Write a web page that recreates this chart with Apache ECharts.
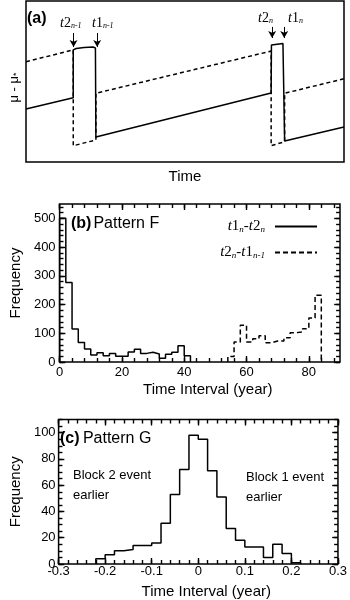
<!DOCTYPE html>
<html><head><meta charset="utf-8">
<script src="https://cdn.jsdelivr.net/npm/echarts@6/dist/echarts.min.js"></script>
<style>html,body{margin:0;padding:0;background:#fff}#c{width:350px;height:600px}</style>
</head><body><div id="c"></div>
<script>
// ---------- Panel (a): schematic (arbitrary units 0..100) ----------
const schemSolidX = [0, 14.86, 14.86, 15.79, 18.27, 21.05, 21.83, 21.98, 21.98, 77.09, 77.18, 77.55, 80.8, 81.33, 81.33, 100];
const schemSolidY = [32.9, 39.9, 69.6, 70.5, 71.1, 71.4, 70.8, 69.6, 15.5, 42.9, 72.7, 73.6, 73.6, 72.7, 13.0, 21.7];
const schemDashX = [0, 14.86, 14.86, 21.98, 21.98, 77.09, 77.09, 81.33, 81.33, 100];
const schemDashY = [62.3, 69.6, 10.1, 13.7, 42.7, 68.9, 10.1, 12.6, 42.7, 51.7];
const arrowX = [14.95, 22.38, 77.4, 81.2];
const arrowTop = [80.1, 80.1, 83.9, 83.9];
const arrowBottom = [71.4, 71.4, 77.0, 77.0];

// ---------- Panel (b): Pattern F histogram ----------
const bBinWidth = 2;
const bSolidStart = 0;
const bSolidFreq = [500, 277, 115, 68, 45, 24, 32, 22, 30, 20, 20, 35, 44, 30, 34, 28, 13, 27, 34, 57, 22];
const bDashStart = 54;
const bDashFreq = [19, 70, 128, 70, 81, 91, 67, 73, 73, 84, 102, 105, 116, 153, 232];
const bXTicks = [0, 20, 40, 60, 80];
const bYTicks = [0, 100, 200, 300, 400, 500];

// ---------- Panel (c): Pattern G histogram ----------
const cBinWidth = 0.02;
const cStart = -0.22;
const cFreq = [4, 7, 10, 11, 14, 14, 16, 31, 53, 72, 98, 95, 71, 51, 27, 18, 13, 13, 5, 15, 8, 1];
const cXTicks = [-0.3, -0.2, -0.1, 0, 0.1, 0.2, 0.3];
const cYTicks = [0, 20, 40, 60, 80, 100];

function stepData(start, width, freq) {
  const d = [[start, 0]];
  freq.forEach((v, i) => d.push([+(start + i * width).toFixed(6), v]));
  d.push([+(start + freq.length * width).toFixed(6), 0]);
  return d;
}
function zip(xs, ys) { return xs.map((x, i) => [x, ys[i]]); }
function range(min, max, step) {
  const out = [];
  const n = Math.floor((max - min) / step + 1e-9);
  for (let i = 0; i <= n; i++) out.push(+(min + i * step).toFixed(6));
  return out;
}

const SANS = 'Liberation Sans';
const SERIF = 'Liberation Serif';

const gridB = { left: 51.5, top: 204, width: 288.5, height: 158 };
const gridC = { left: 49, top: 419.5, width: 291, height: 144.5 };

// inside tick marks on all four sides, drawn as markLines through the axes' scales
function tickLines(xr, yr, xMajor, xMinor, yMajor, yMinor, g) {
  const ux = (xr[1] - xr[0]) / g.width, uy = (yr[1] - yr[0]) / g.height;
  const out = [];
  const xt = range(xr[0], xr[1], xMinor).map(v => [v, 4]).concat(xMajor.map(v => [v, 6]));
  const yt = range(yr[0], yr[1], yMinor).map(v => [v, 4]).concat(yMajor.map(v => [v, 6]));
  xt.forEach(([v, len]) => {
    out.push([{ coord: [v, yr[0]] }, { coord: [v, yr[0] + len * uy] }]);
    out.push([{ coord: [v, yr[1]] }, { coord: [v, yr[1] - len * uy] }]);
  });
  yt.forEach(([v, len]) => {
    out.push([{ coord: [xr[0], v] }, { coord: [xr[0] + len * ux, v] }]);
    out.push([{ coord: [xr[1], v] }, { coord: [xr[1] - len * ux, v] }]);
  });
  return out;
}
function tickMarkLine(data) {
  return { silent: true, symbol: ['none', 'none'], label: { show: false }, animation: false,
    lineStyle: { color: '#000', width: 1.4, type: 'solid', opacity: 1 },
    emphasis: { disabled: true }, data: data };
}

function valueAxis(grid, min, max, interval, labelOpts, nameOpts) {
  return Object.assign({
    type: 'value', gridIndex: grid, min: min, max: max, interval: interval,
    axisLine: { show: false, onZero: false },
    axisTick: { show: false },
    minorTick: { show: false },
    splitLine: { show: false },
    axisLabel: Object.assign({ show: true, color: '#000', fontFamily: SANS, fontSize: 13 }, labelOpts)
  }, nameOpts || {});
}

const xAxes = [
  valueAxis(0, 0, 100, 20, { show: false }, {
    name: 'Time', nameLocation: 'middle', nameGap: 7,
    nameTextStyle: { fontFamily: SANS, fontSize: 15, color: '#000', verticalAlign: 'top' } }),
  valueAxis(1, 0, 90, 20, { showMaxLabel: false, margin: 4 }, {
    name: 'Time Interval (year)', nameLocation: 'middle', nameGap: 20,
    nameTextStyle: { fontFamily: SANS, fontSize: 15, color: '#000', padding: [0, 0, 0, 16] } }),
  valueAxis(2, -0.3, 0.3, 0.1, { showMaxLabel: true, margin: 1 }, {
    name: 'Time Interval (year)', nameLocation: 'middle', nameGap: 20,
    nameTextStyle: { fontFamily: SANS, fontSize: 15, color: '#000', padding: [0, 0, 0, 16] } })
];
const yAxes = [
  valueAxis(0, 0, 100, 20, { show: false }, {
    name: '{r|μ - μ}{s|*}', nameLocation: 'middle', nameGap: 5,
    nameTextStyle: { fontFamily: SANS, fontSize: 13, color: '#000', padding: [0, 12, 0, 0],
      rich: { r: { fontFamily: SANS, fontSize: 13, color: '#000' }, s: { fontFamily: SANS, fontSize: 9, color: '#000', verticalAlign: 'bottom', lineHeight: 9 } } } }),
  valueAxis(1, 0, 550, 100, { showMaxLabel: false, margin: 4 }, {
    name: 'Frequency', nameLocation: 'middle', nameGap: 34,
    nameTextStyle: { fontFamily: SANS, fontSize: 15, color: '#000' } }),
  valueAxis(2, 0, 110, 20, { showMaxLabel: false, margin: 3 }, {
    name: 'Frequency', nameLocation: 'middle', nameGap: 31,
    nameTextStyle: { fontFamily: SANS, fontSize: 15, color: '#000' } })
];

const subRich = {
  i: { fontFamily: SERIF, fontStyle: 'italic', fontSize: 15, color: '#000', lineHeight: 15 },
  r: { fontFamily: SERIF, fontSize: 15, color: '#000', lineHeight: 15 },
  s: { fontFamily: SERIF, fontStyle: 'italic', fontSize: 9, color: '#000', verticalAlign: 'bottom', lineHeight: 9 }
};
const legendText = {
  'b1': '{i|t}{r|1}{s|n}{r|-}{i|t}{r|2}{s|n}',
  'b2': '{i|t}{r|2}{s|n}{r|-}{i|t}{r|1}{s|n-1}'
};
const smallRich = {
  i: { fontFamily: SERIF, fontStyle: 'italic', fontSize: 14, fill: '#000', lineHeight: 14 },
  r: { fontFamily: SERIF, fontSize: 14, fill: '#000', lineHeight: 14 },
  s: { fontFamily: SERIF, fontStyle: 'italic', fontSize: 8, fill: '#000', verticalAlign: 'bottom', lineHeight: 8 }
};

const lineBlack = (w, type) => ({ color: '#000', width: w, type: type || 'solid' });

const option = {
  animation: false,
  backgroundColor: '#fff',
  grid: [
    { left: 21, top: 1, width: 323, height: 161, show: true, borderColor: '#000', borderWidth: 1.5 },
    Object.assign({ show: true, borderColor: '#000', borderWidth: 1.5 }, gridB),
    Object.assign({ show: true, borderColor: '#000', borderWidth: 1.5 }, gridC)
  ],
  xAxis: xAxes,
  yAxis: yAxes,
  legend: {
    show: true, orient: 'vertical', right: 27, top: 214, align: 'right',
    itemWidth: 42, itemHeight: 14, itemGap: 11,
    data: ['b1', 'b2'],
    formatter: n => legendText[n],
    itemStyle: { opacity: 0 },
    textStyle: { color: '#000', fontFamily: SERIF, fontSize: 15, rich: subRich, padding: [0, 5, 0, 0] },
    selectedMode: false
  },
  series: [
    { type: 'line', name: 'a-solid', xAxisIndex: 0, yAxisIndex: 0, data: zip(schemSolidX, schemSolidY), symbol: 'none', smooth: false, lineStyle: lineBlack(1.5), silent: true,
      markLine: { silent: true, symbol: ['none', 'arrow'], symbolSize: [6, 7], label: { show: false },
        lineStyle: { color: '#000', width: 1, type: 'solid' },
        data: arrowX.map((x, i) => [{ coord: [x, arrowTop[i]] }, { coord: [x, arrowBottom[i]] }]) } },
    { type: 'line', name: 'a-dash', xAxisIndex: 0, yAxisIndex: 0, data: zip(schemDashX, schemDashY), symbol: 'none', lineStyle: lineBlack(1.5, [4, 3]), silent: true },
    { type: 'line', name: 'b1', xAxisIndex: 1, yAxisIndex: 1, data: stepData(bSolidStart, bBinWidth, bSolidFreq), step: 'end', symbol: 'none', lineStyle: lineBlack(1.5), itemStyle: { color: '#000' } },
    { type: 'line', name: 'b2', xAxisIndex: 1, yAxisIndex: 1, data: stepData(bDashStart, bBinWidth, bDashFreq), step: 'end', symbol: 'none', lineStyle: lineBlack(1.5, [5, 3]), itemStyle: { color: '#000' } },
    { type: 'line', name: 'c', xAxisIndex: 2, yAxisIndex: 2, data: stepData(cStart, cBinWidth, cFreq), step: 'end', symbol: 'none', lineStyle: lineBlack(1.5), itemStyle: { color: '#000' } },
    // tick-mark carriers (no visible line of their own)
    { type: 'line', name: 'ticks-b', xAxisIndex: 1, yAxisIndex: 1, data: [[0, 0]], symbol: 'none', silent: true, lineStyle: { opacity: 0 },
      markLine: tickMarkLine(tickLines([0, 90], [0, 550], bXTicks, 4, bYTicks, 20, gridB)) },
    { type: 'line', name: 'ticks-c', xAxisIndex: 2, yAxisIndex: 2, data: [[0, 0]], symbol: 'none', silent: true, lineStyle: { opacity: 0 },
      markLine: tickMarkLine(tickLines([-0.3, 0.3], [0, 110], cXTicks, 0.02, cYTicks, 5, gridC)) }
  ],
  graphic: [
    { type: 'text', left: 27, top: 11, style: { text: '(a)', fontFamily: SANS, fontWeight: 'bold', fontSize: 16, fill: '#000' } },
    { type: 'text', left: 60, top: 16, style: { text: '{i|t}{r|2}{s|n-1}', rich: smallRich } },
    { type: 'text', left: 92, top: 16, style: { text: '{i|t}{r|1}{s|n-1}', rich: smallRich } },
    { type: 'text', left: 258, top: 11, style: { text: '{i|t}{r|2}{s|n}', rich: smallRich } },
    { type: 'text', left: 288, top: 11, style: { text: '{i|t}{r|1}{s|n}', rich: smallRich } },
    { type: 'text', left: 71, top: 216, style: { text: '{b|(b)}{r|Pattern F}', rich: {
        b: { fontFamily: SANS, fontWeight: 'bold', fontSize: 16, fill: '#000' },
        r: { fontFamily: SANS, fontSize: 16, fill: '#000', padding: [0, 0, 0, 2] } } } },
    { type: 'text', left: 60, top: 431, style: { text: '{b|(c)} {r|Pattern G}', rich: {
        b: { fontFamily: SANS, fontWeight: 'bold', fontSize: 16, fill: '#000' },
        r: { fontFamily: SANS, fontSize: 16, fill: '#000' } } } },
    { type: 'text', left: 73, top: 465, style: { text: 'Block 2 event\nearlier', fontFamily: SANS, fontSize: 13, lineHeight: 20, fill: '#000' } },
    { type: 'text', left: 246, top: 467, style: { text: 'Block 1 event\nearlier', fontFamily: SANS, fontSize: 13, lineHeight: 20, fill: '#000' } }
  ]
};

const chart = echarts.init(document.getElementById('c'), null, { renderer: 'canvas' });
chart.setOption(option);
</script>
</body></html>
